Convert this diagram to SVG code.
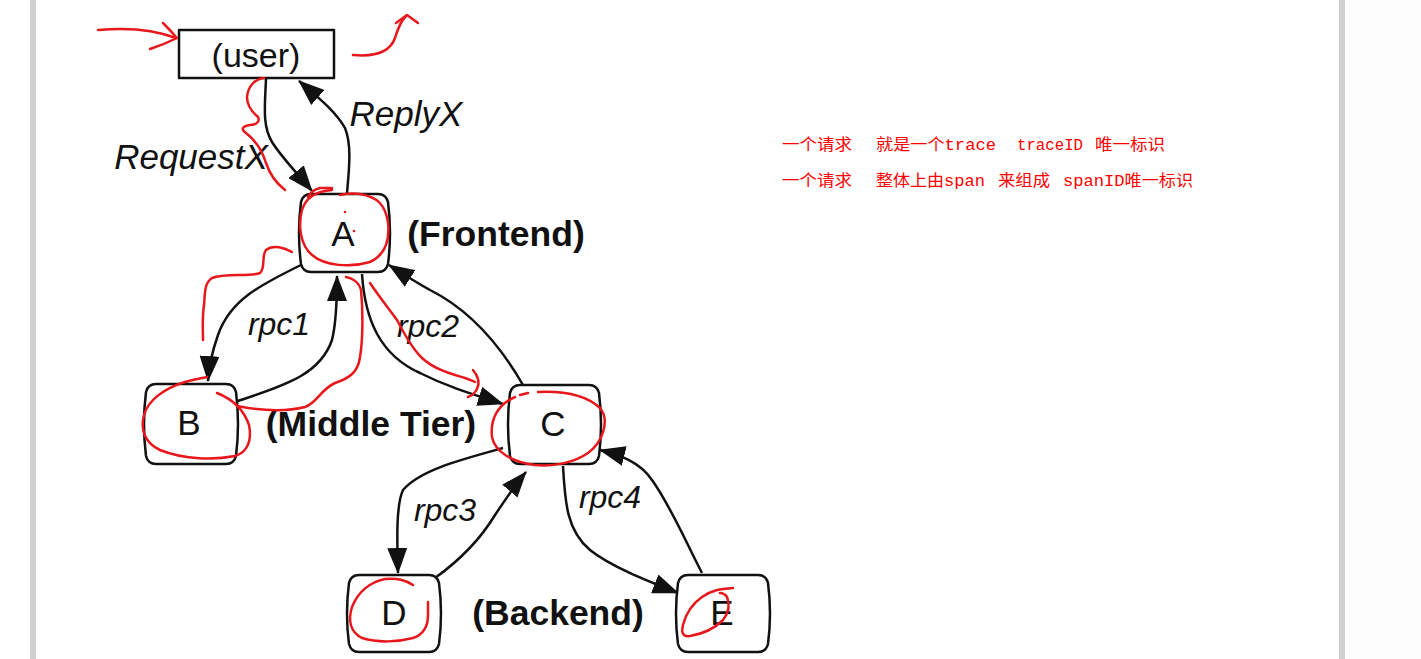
<svg xmlns="http://www.w3.org/2000/svg" width="1421" height="659" viewBox="0 0 1421 659">
<style>
.node{fill:#fff;stroke:#111;stroke-width:2.5;stroke-linejoin:round}
.lbl{font-family:"Liberation Sans",Arial,sans-serif;fill:#111;text-anchor:middle}
.it{font-style:italic}
.bd{font-weight:bold}
.edge{fill:none;stroke:#111;stroke-width:2.5;marker-end:url(#ah)}
.red{fill:none;stroke:#e8171c;stroke-width:2.5;stroke-linecap:round;stroke-linejoin:round}
.note{font-family:"Liberation Mono","Noto Sans CJK SC",monospace;font-size:16px;fill:#f00}
</style>
<defs>
<marker id="ah" viewBox="0 0 26 20" refX="25" refY="10" markerWidth="26" markerHeight="20" markerUnits="userSpaceOnUse" orient="auto">
<path d="M0,0 L26,10 L0,20 Z" fill="#111"/>
</marker>
</defs>
<rect width="1421" height="659" fill="#fff"/>
<rect x="1345" y="0" width="76" height="659" fill="#fdfdfd"/>
<rect x="30" y="0" width="6" height="659" fill="#d0d0d0"/>
<rect x="1339" y="0" width="6" height="659" fill="#d0d0d0"/>

<g id="connectors">
<path class="edge" d="M266,79 C265,105 262,125 272,142 C282,158 298,174 312,191"/>
<path class="edge" d="M347,193 C349,170 352,145 345,128 C335,110 315,95 299,81"/>
<path class="edge" d="M303,264 C260,285 230,300 218,335 C212,352 209,365 208,381"/>
<path class="edge" d="M235,402 C285,385 320,375 332,340 C337,320 337,295 337,276"/>
<path class="edge" d="M362,274 C365,320 380,355 420,373 C450,388 475,395 503,404"/>
<path class="edge" d="M523,385 C500,345 470,310 430,290 C412,280 400,272 389,265"/>
<path class="edge" d="M503,448 C460,460 420,470 403,490 C396,505 397,540 398,573"/>
<path class="edge" d="M435,578 C460,560 480,540 495,515 C505,500 515,485 526,472"/>
<path class="edge" d="M563,466 C565,500 566,530 590,550 C610,566 645,580 678,593"/>
<path class="edge" d="M702,573 C685,540 670,505 652,480 C640,462 620,455 600,450"/>
</g>

<g id="edge-labels">
<text class="lbl it" x="191" y="169" font-size="35">RequestX</text>
<text class="lbl it" x="406" y="126" font-size="35">ReplyX</text>
<text class="lbl it" x="279" y="335" font-size="32">rpc1</text>
<text class="lbl it" x="428" y="337" font-size="32">rpc2</text>
<text class="lbl it" x="445" y="521" font-size="32">rpc3</text>
<text class="lbl it" x="610" y="508" font-size="32">rpc4</text>
</g>

<g id="node-user">
<rect class="node" x="179" y="30" width="155" height="48"/>
<text class="lbl" x="256" y="67" font-size="34">(user)</text>
</g>
<g id="node-A">
<path class="node" d="M311,194 H378 Q386,194 388,202 Q392,233 388,264 Q386,272 378,272 H311 Q303,272 301,264 Q297,233 301,202 Q303,194 311,194 Z"/>
<text class="lbl" x="343" y="246" font-size="35">A</text>
</g>
<g id="node-B">
<path class="node" d="M156,384 H226 Q234,384 236,392 Q240,424 236,456 Q234,464 226,464 H156 Q148,464 146,456 Q142,424 146,392 Q148,384 156,384 Z"/>
<text class="lbl" x="189" y="435" font-size="35">B</text>
</g>
<g id="node-C">
<path class="node" d="M520,385 H589 Q597,385 599,393 Q603,424.5 599,456 Q597,464 589,464 H520 Q512,464 510,456 Q506,424.5 510,393 Q512,385 520,385 Z"/>
<text class="lbl" x="553" y="436" font-size="35">C</text>
</g>
<g id="node-D">
<path class="node" d="M359,575 H429 Q437,575 439,583 Q443,613.5 439,644 Q437,652 429,652 H359 Q351,652 349,644 Q345,613.5 349,583 Q351,575 359,575 Z"/>
<text class="lbl" x="394" y="625" font-size="35">D</text>
</g>
<g id="node-E">
<path class="node" d="M688,575 H758 Q766,575 768,583 Q772,613.5 768,644 Q766,652 758,652 H688 Q680,652 678,644 Q674,613.5 678,583 Q680,575 688,575 Z"/>
<text class="lbl" x="722" y="625" font-size="35">E</text>
</g>

<g id="tier-labels">
<text class="lbl bd" x="496" y="246" font-size="35.5">(Frontend)</text>
<text class="lbl bd" x="371" y="436" font-size="35.5">(Middle Tier)</text>
<text class="lbl bd" x="558" y="625" font-size="35.5">(Backend)</text>
</g>

<g id="notes">
<text class="note" x="782" y="150" textLength="70" lengthAdjust="spacingAndGlyphs">一个请求</text>
<text class="note" x="876" y="150" textLength="120" lengthAdjust="spacingAndGlyphs">就是一个trace</text>
<text class="note" x="1017" y="150" textLength="66" lengthAdjust="spacingAndGlyphs">traceID</text>
<text class="note" x="1095" y="150" textLength="70" lengthAdjust="spacingAndGlyphs">唯一标识</text>
<text class="note" x="782" y="186" textLength="70" lengthAdjust="spacingAndGlyphs">一个请求</text>
<text class="note" x="876" y="186" textLength="109" lengthAdjust="spacingAndGlyphs">整体上由span</text>
<text class="note" x="998" y="186" textLength="52" lengthAdjust="spacingAndGlyphs">来组成</text>
<text class="note" x="1063" y="186" textLength="130" lengthAdjust="spacingAndGlyphs">spanID唯一标识</text>
</g>

<g id="annotations">
<path class="red" d="M98,30 C120,28 150,28 176,38"/>
<path class="red" d="M163,23 Q170,30 177,38 Q165,44 150,49"/>
<path class="red" d="M353,55 C375,57 390,52 395,38 C398,28 402,20 406,16"/>
<path class="red" d="M396,23 L407,15 L418,23"/>
<path class="red" d="M264,78 C255,79 248,86 247,97 C247,105 252,112 258,117 C260,121 257,125 250,125 C243,126 240,129 246,133 C255,140 262,150 266,163 C270,175 276,183 285,190"/>
<path class="red" d="M308,197 C311,192 315,189 320,188 L332,188"/>
<path class="red" d="M332,190 C318,191 306,197 302,210 C298,225 300,245 312,255 C325,266 350,268 370,262 C385,255 390,240 388,222 C385,205 378,197 360,194 C352,193 345,194 340,195"/>
<circle cx="345" cy="212" r="1.3" fill="#e8171c"/>
<circle cx="354" cy="231" r="1.3" fill="#e8171c"/>
<path class="red" d="M292,252 C285,248 273,244 266,250 C261,256 266,268 260,273 C250,277 225,273 212,278 C204,283 205,295 204,305 C202,318 203,330 203,340"/>
<path class="red" d="M217,393 C232,399 244,410 249,425 C252,440 248,452 235,456 C215,460 185,460 160,450 C145,443 140,430 144,415 C148,400 165,388 185,382 C195,379 203,378 207,377"/>
<path class="red" d="M237,406 C258,410 285,412 305,407 C318,402 320,390 335,383 C350,378 358,372 360,357 C363,340 363,310 361,290 C359,282 352,278 346,277"/>
<path class="red" d="M370,283 C380,298 390,310 397,320 C405,335 412,348 422,358 C435,370 452,374 465,378 C470,380 473,381 475,382"/>
<path class="red" d="M473,370 C478,376 480,383 477,389 C475,393 471,396 468,397"/>
<path class="red" d="M520,395 L528,393 M538,392 C560,391 585,394 600,408 C610,420 603,442 588,453 C575,462 555,467 535,465 C512,462 495,452 492,437 C490,420 497,405 515,397"/>
<path class="red" d="M413,585 C405,580 398,578 385,579 C370,582 358,592 352,607 C348,620 350,632 362,638 C378,643 398,642 413,638 C425,634 428,625 428,615 C428,610 428,605 428,602"/>
<path class="red" d="M733,588 C720,589 712,590 702,597 C692,604 686,613 683,625 C681,633 683,637 690,636 C702,634 715,628 723,620 C729,612 730,604 727,597 C725,594 722,593 720,593"/>
</g>
</svg>
